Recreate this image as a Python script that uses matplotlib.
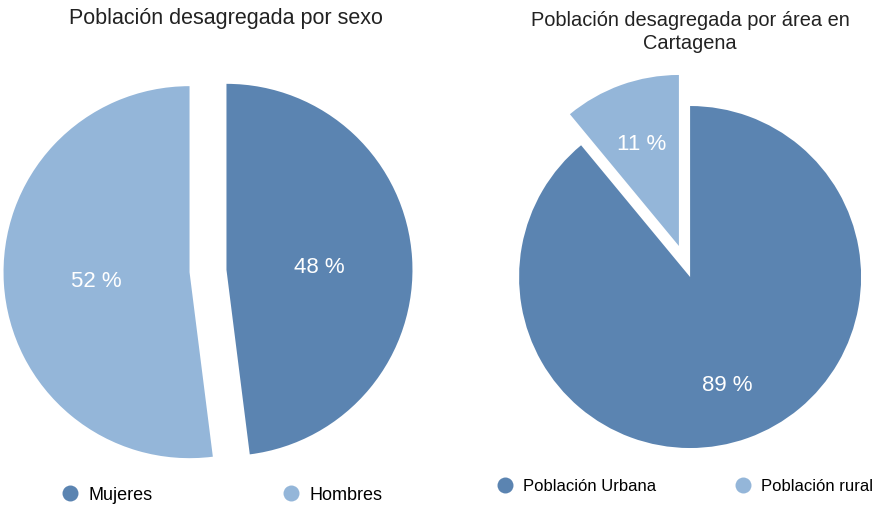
import matplotlib.pyplot as plt
from matplotlib.lines import Line2D

plt.rcParams['font.family'] = ['Liberation Sans', 'DejaVu Sans']

# datos
sexo_labels = ['Mujeres', 'Hombres']
sexo_values = [48, 52]
area_labels = ['Población Urbana', 'Población rural']
area_values = [89, 11]
colors = ['#5b84b1', '#94b6d9']

fig = plt.figure(figsize=(8.74, 5.06), dpi=100)
ax = fig.add_axes([0, 0, 1, 1])

def pct(p):
    return f'{p:.0f} %'

txt = dict(color='white', fontsize=16)

# pie izquierdo (sexo)
_, _, t1 = ax.pie(sexo_values, colors=colors, startangle=90, counterclock=False,
                  center=(208, 234), radius=186, explode=[18.5, 18.5],
                  autopct=pct, pctdistance=0.5,
                  wedgeprops=dict(linewidth=0), textprops=txt)

# pie derecho (area)
_, _, t2 = ax.pie(area_values, colors=colors, startangle=90, counterclock=False,
                  center=(684.5, 243.5), radius=171, explode=[16.5, 16.5],
                  autopct=pct, pctdistance=0.65,
                  wedgeprops=dict(linewidth=0), textprops=txt)
for t in t1 + t2:
    t.set_va('center_baseline')

ax.set_xlim(0, 874)
ax.set_ylim(0, 506)
ax.set_aspect('equal')
ax.axis('off')

ax.text(226, 488, 'Población desagregada por sexo', ha='center', va='center',
        fontsize=15.5, color='#222222')
ax.text(690, 474, 'Población desagregada por área en\nCartagena', ha='center',
        va='center', fontsize=14.4, color='#222222', linespacing=1.25)

def handles(labels):
    return [Line2D([], [], marker='o', linestyle='none', markersize=11.5,
                   markerfacecolor=c, markeredgewidth=0, label=l)
            for c, l in zip(colors, labels)]

leg1 = ax.legend(handles=handles(sexo_labels), ncol=2, frameon=False,
                 loc='center left', bbox_to_anchor=(61, 10),
                 bbox_transform=ax.transData, fontsize=13,
                 handlelength=1, handletextpad=0.5, columnspacing=7.2,
                 borderpad=0, borderaxespad=0)
ax.add_artist(leg1)
ax.legend(handles=handles(area_labels), ncol=2, frameon=False,
          loc='center left', bbox_to_anchor=(496.5, 19),
          bbox_transform=ax.transData, fontsize=12,
          handlelength=1, handletextpad=0.58, columnspacing=4.7,
          borderpad=0, borderaxespad=0)

fig.savefig('out.png', dpi=100)
